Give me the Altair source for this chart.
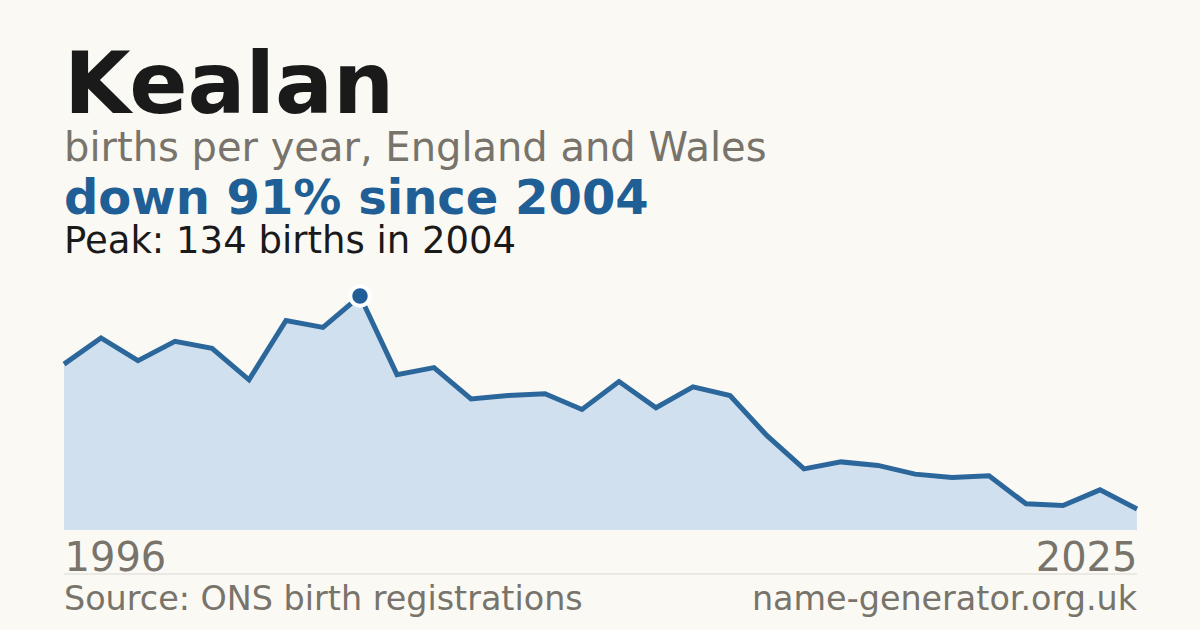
import altair as alt
import pandas as pd

years = list(range(1996, 2026))
births = [95, 110, 97, 108, 104, 86, 120, 116, 134, 89, 93, 75, 77, 78, 69,
          85, 70, 82, 77, 54, 35, 39, 37, 32, 30, 31, 15, 14, 23, 12]
tick_years = [1996, 2025]

title_text = "Kealan"
subtitle_text = "births per year, England and Wales"
change_text = "down 91% since 2004"
peak_text = "Peak: 134 births in 2004"
source_text = "Source: ONS birth registrations"
site_text = "name-generator.org.uk"

BG = "#faf9f4"
GRAY = "#78736b"
BLUE = "#1f5f96"
DARK = "#1a1a1a"
FONT = "DejaVu Sans"

df = pd.DataFrame({"year": years, "births": births})
peak_year = int(df.loc[df["births"].idxmax(), "year"])

W, H = 1073, 234

x = alt.X("year:Q",
          scale=alt.Scale(domain=[min(years), max(years)], nice=False, zero=False),
          axis=alt.Axis(values=tick_years, format="d", title=None, grid=False,
                        domain=False, ticks=False, tickSize=0, labelFlush=True,
                        labelFontSize=40, labelColor=GRAY, labelFont=FONT,
                        labelBaseline="alphabetic", labelPadding=40))
y = alt.Y("births:Q", scale=alt.Scale(domain=[0, max(births)], nice=False),
          axis=None)

base = alt.Chart(df)
area = base.mark_area(color="#d0e0ef", opacity=1).encode(x=x, y=y)
line = base.mark_line(color="#2c679c", strokeWidth=5, strokeJoin="miter").encode(x=x, y=y)
peak = base.transform_filter(alt.datum.year == peak_year).mark_point(
    filled=True, size=380, color=BLUE, stroke="white", strokeWidth=4, opacity=1
).encode(x=x, y=y)


def txt(s, ypos, size, color, weight="normal", xpos=0, align="left"):
    return alt.Chart(alt.Data(values=[{"t": s}])).mark_text(
        align=align, baseline="alphabetic", fontSize=size, font=FONT,
        fontWeight=weight, color=color
    ).encode(text="t:N", x=alt.value(xpos), y=alt.value(ypos))


texts = [
    txt(title_text, -183, 86, DARK, "bold"),
    txt(subtitle_text, -135, 40, GRAY),
    txt(change_text, -82, 48, BLUE, "bold"),
    txt(peak_text, -43, 37, DARK),
    txt(source_text, 314, 33.4, GRAY),
    txt(site_text, 314, 33.4, GRAY, xpos=W, align="right"),
]

sep = alt.Chart(alt.Data(values=[{"a": 1}])).mark_rule(
    color="#dcd9d2", strokeWidth=1
).encode(x=alt.value(0), x2=alt.value(W), y=alt.value(278))

chart = alt.layer(area, line, peak, sep, *texts).properties(
    width=W, height=H,
    padding={"left": 56, "top": 288, "right": 55, "bottom": 92},
    autosize=alt.AutoSizeParams(type="none"),
    background=BG,
).configure_view(stroke=None)

chart.save("out.html", embed_options={"renderer": "svg", "actions": False,
                                      "defaultStyle": "body{background:#faf9f4}"})
